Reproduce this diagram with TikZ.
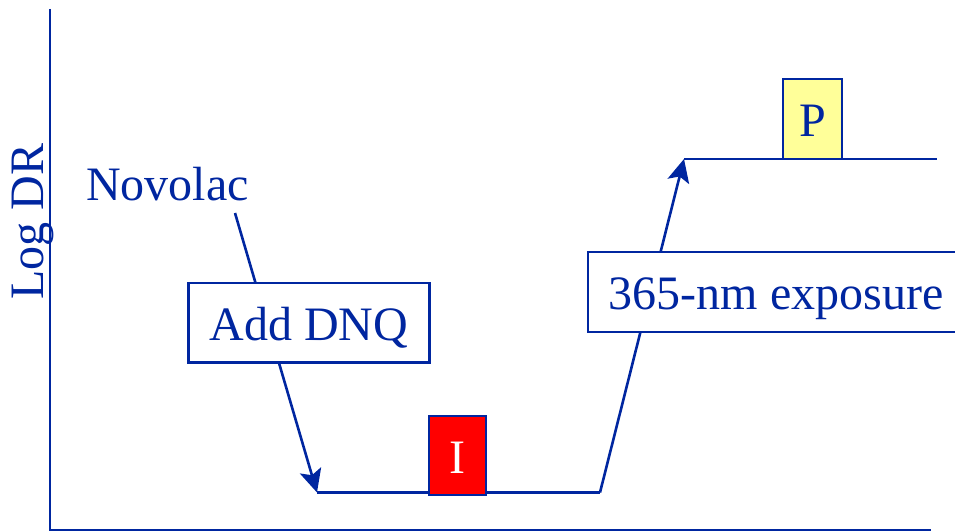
\documentclass[tikz,border=0pt]{standalone}
\usepackage{fontspec}
\setmainfont{Liberation Serif}
\usetikzlibrary{arrows.meta,backgrounds}
\definecolor{ink}{RGB}{0,38,160}
\definecolor{pyellow}{RGB}{255,255,153}
\tikzset{
  lbl/.style={text=ink, font=\fontsize{48}{57}\selectfont, inner sep=0pt},
  stagebox/.style={lbl, draw=ink, line width=2.5pt, text height=35pt, text depth=0pt, align=center},
  conn/.style={draw=ink, line width=2.6pt},
  arr/.style={conn, -{Stealth[length=23pt,width=22pt,inset=5pt]}},
  axisline/.style={draw=ink, line width=2.2pt}
}
\begin{document}
\begin{tikzpicture}[x=1pt,y=-1pt]
\path[use as bounding box, clip] (0,0) rectangle (955,532);
% axes
\coordinate (otop) at (50,9);
\coordinate (orig) at (50,530);
\coordinate (xend) at (931,530);
\draw[axisline] (otop) -- (orig) -- (xend);
% labels
\node[lbl, rotate=90, anchor=base] (logdr) at (43.5,221.5) {Log DR};
\node[lbl, anchor=base] (novolac) at (167.5,200) {Novolac};
% boxes
\node[stagebox, fill=white, minimum width=241pt, minimum height=79.5pt] (add) at (308.8,322.5) {Add DNQ};
\node[stagebox, fill=red, text=white, minimum width=57pt, minimum height=79pt] (ibox) at (457.5,455.5) {I};
\node[stagebox, fill=white, minimum width=376pt, minimum height=80pt] (expo) at (776,292) {365-nm exposure};
\node[stagebox, fill=pyellow, minimum width=59pt, minimum height=80pt] (pbox) at (812.5,119) {P};
% connector points
\coordinate (n1) at (235,213);
\coordinate (t1) at (317,492.5);
\coordinate (c2) at (600,492.5);
\coordinate (t2) at (684,159);
\coordinate (e2) at (937,159);
\begin{scope}[on background layer]
\draw[arr] (n1) -- (t1);
\draw[conn] (t1) -- (c2);
\draw[arr] (c2) -- (t2);
\draw[conn] (t2) -- (e2);
\end{scope}
\end{tikzpicture}
\end{document}
